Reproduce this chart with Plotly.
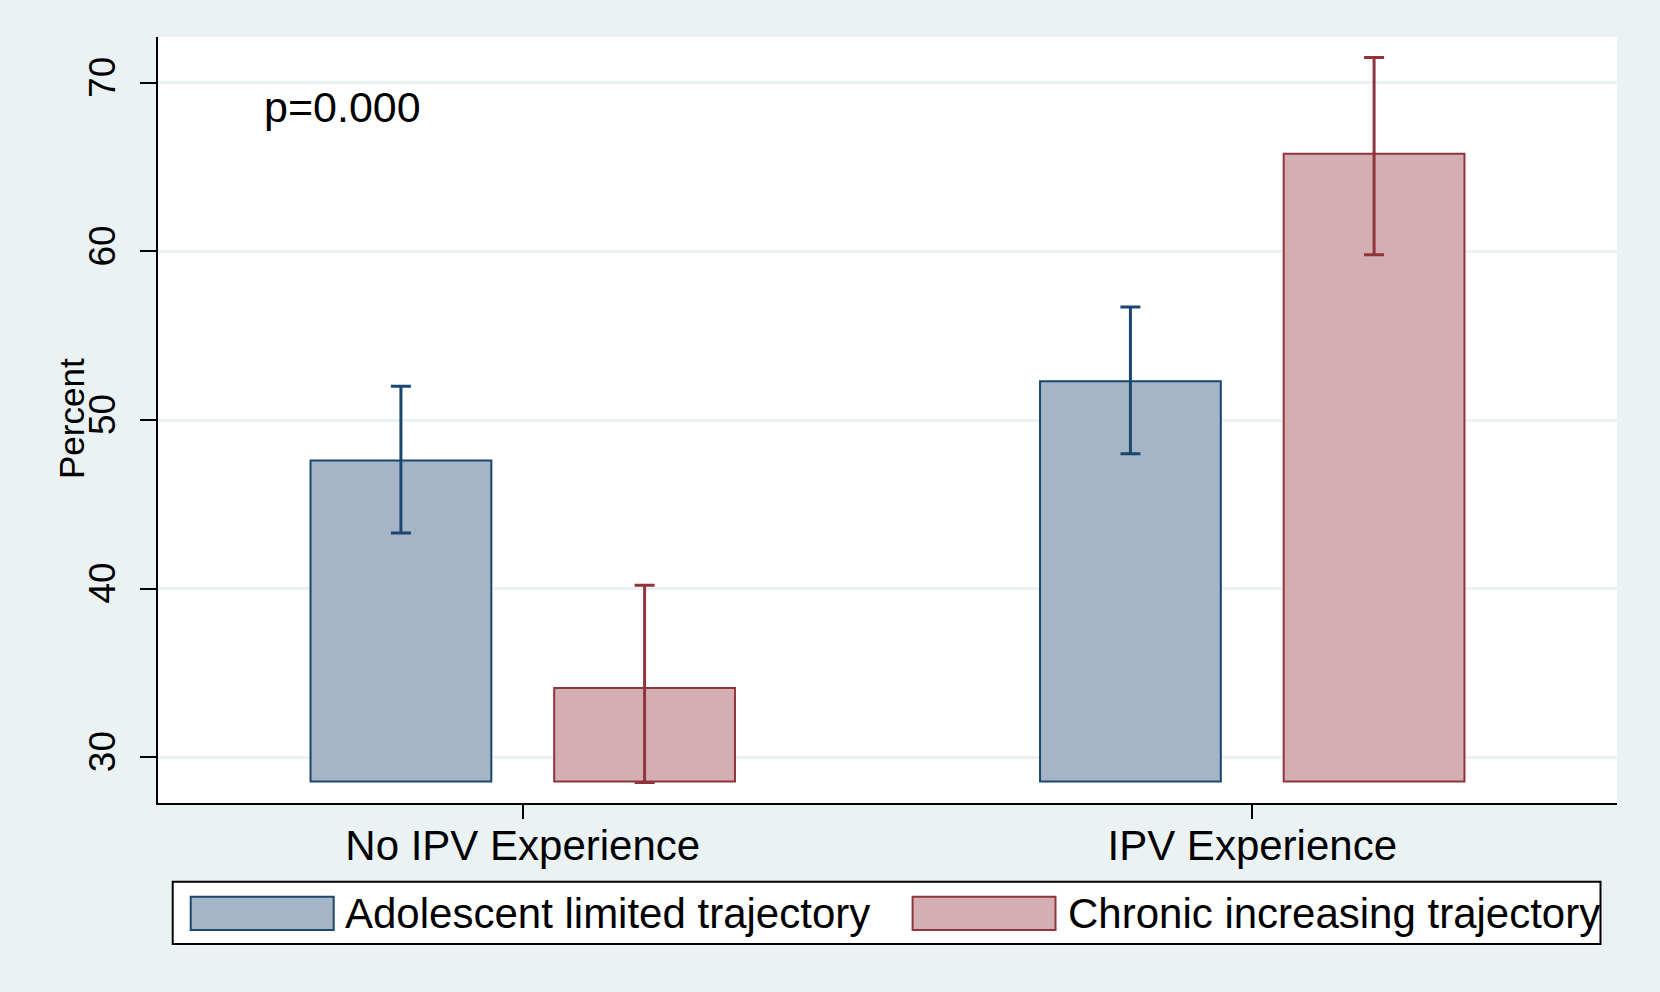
import plotly.graph_objects as go

# ---- data ----
categories = ["No IPV Experience", "IPV Experience"]
series_names = ["Adolescent limited trajectory", "Chronic increasing trajectory"]
adolescent = [47.6, 52.3]
adolescent_lo = [43.3, 48.0]
adolescent_hi = [52.0, 56.7]
chronic = [34.1, 65.8]
chronic_lo = [28.5, 59.8]
chronic_hi = [40.2, 71.5]
bar_base = 28.55
y_ticks = [30, 40, 50, 60, 70]
p_text = "p=0.000"

# ---- style ----
FONT = "Liberation Sans, Arial, sans-serif"
BG = "#eaf2f3"
NAVY = "#1a476f"
MAROON = "#90353b"
NAVY_FILL = "#a5b5c6"
MAROON_FILL = "#d3aeb2"

W, H = 1660, 992
ML, MR, MT, MB = 158, 43, 37, 189
PW = W - ML - MR
PH = H - MT - MB


def px(x):
    return (x - ML) / PW


def py(y):
    return (H - MB - y) / PH


fig = go.Figure()
for name, vals, lo, hi, line_c, fill_c in [
    (series_names[0], adolescent, adolescent_lo, adolescent_hi, NAVY, NAVY_FILL),
    (series_names[1], chronic, chronic_lo, chronic_hi, MAROON, MAROON_FILL),
]:
    fig.add_trace(go.Bar(
        name=name,
        x=categories,
        y=[v - bar_base for v in vals],
        base=[bar_base] * len(vals),
        marker=dict(color=fill_c, line=dict(color=line_c, width=2)),
        error_y=dict(
            type="data", symmetric=False,
            array=[h - v for h, v in zip(hi, vals)],
            arrayminus=[v - l for v, l in zip(vals, lo)],
            color=line_c, thickness=3, width=10,
        ),
        showlegend=False,
    ))

shapes = []
annotations = []

# custom legend (Stata style)
shapes.append(dict(type="rect", xref="paper", yref="paper",
                   x0=px(172.7), x1=px(1600.5), y0=py(944), y1=py(881.7),
                   line=dict(color="black", width=2), fillcolor="white", layer="above"))
legend_items = [
    (series_names[0], NAVY, NAVY_FILL, 190.7, 333.7, 343),
    (series_names[1], MAROON, MAROON_FILL, 912.6, 1055.5, 1066),
]
for name, lc, fc, sx0, sx1, tx in legend_items:
    shapes.append(dict(type="rect", xref="paper", yref="paper",
                       x0=px(sx0), x1=px(sx1), y0=py(930), y1=py(896.7),
                       line=dict(color=lc, width=2), fillcolor=fc, layer="above"))
    annotations.append(dict(text=name, xref="paper", yref="paper",
                            x=px(tx), y=py(913), xanchor="left", yanchor="middle",
                            showarrow=False, font=dict(family=FONT, size=42, color="black")))

# p-value annotation
annotations.append(dict(text=p_text, xref="paper", yref="paper",
                        x=px(262), y=py(107), xanchor="left", yanchor="middle",
                        showarrow=False, font=dict(family=FONT, size=43, color="black")))
# y-axis title
annotations.append(dict(text="Percent", xref="paper", yref="paper",
                        x=px(71), y=py(419), xanchor="center", yanchor="middle",
                        textangle=-90, showarrow=False,
                        font=dict(family=FONT, size=35, color="black")))

fig.update_layout(
    width=W, height=H,
    margin=dict(l=ML, r=MR, t=MT, b=MB, autoexpand=False),
    paper_bgcolor=BG, plot_bgcolor="white",
    barmode="group", bargap=0.332, bargroupgap=0.258,
    font=dict(family=FONT, color="black"),
    shapes=shapes, annotations=annotations,
    showlegend=False,
    xaxis=dict(
        type="category", range=[-0.5, 1.5],
        showline=True, linecolor="black", linewidth=2,
        ticks="outside", ticklen=14, tickwidth=1.5, tickcolor="black",
        tickfont=dict(family=FONT, size=42, color="black"),
        ticklabelstandoff=-9,
        showgrid=False, zeroline=False,
    ),
    yaxis=dict(
        range=[27.28, 72.72],
        tickvals=y_ticks, ticktext=[str(t) for t in y_ticks],
        tickangle=-90,
        showline=True, linecolor="black", linewidth=2,
        ticks="outside", ticklen=16, tickwidth=1.5, tickcolor="black",
        tickfont=dict(family=FONT, size=37, color="black"),
        ticklabelstandoff=10,
        showgrid=True, gridcolor=BG, gridwidth=2.5,
        zeroline=False,
    ),
)

fig.write_html(
    "out.html",
    config={"displayModeBar": False},
    post_script="document.body.style.margin='0';document.body.style.overflow='hidden';",
)
